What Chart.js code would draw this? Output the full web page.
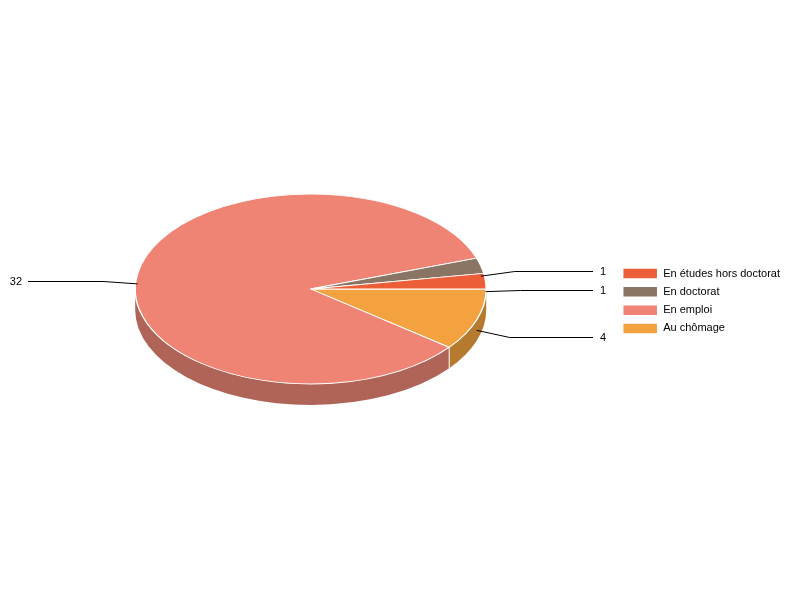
<!DOCTYPE html>
<html>
<head>
<meta charset="utf-8">
<style>
  html, body { margin: 0; padding: 0; background: #fff; }
  canvas { display: block; }
</style>
<script src="https://cdn.jsdelivr.net/npm/chart.js@4"></script>
</head>
<body>
<canvas id="chart" width="800" height="600"></canvas>
<script>
// drawn clockwise from 3 o'clock, the legend shows them in reverse
const categories = ['Au chômage', 'En emploi', 'En doctorat', 'En études hors doctorat'];
const counts = [4, 32, 1, 1];
const colors = ['#f4a13f', '#ef8374', '#8a7565', '#ec5e38'];
const wallColors = ['#b67a2e', '#b06357', '#685749', '#b1462a'];

const FONT = 'Arial, "Liberation Sans", sans-serif';
const SQUASH = 95 / 175.5;
const DEPTH = 21;
const CY = 289;

// the pie is laid out round, then flattened onto the table plane
function project(ctx, chart) {
  const cy = (chart.chartArea.top + chart.chartArea.bottom) / 2;
  ctx.translate(0, CY);
  ctx.scale(1, SQUASH);
  ctx.translate(0, -cy);
}

const pie3d = {
  id: 'pie3d',
  beforeDatasetsDraw(chart) {
    const { ctx } = chart;
    const arcs = chart.getDatasetMeta(0).data;
    const cx = arcs[0].x;
    const rx = arcs[0].outerRadius;
    const ry = rx * SQUASH;
    ctx.save();
    ctx.lineWidth = 1;
    ctx.strokeStyle = '#fff';
    arcs.forEach((arc, i) => {
      // only the front half of the rim can be seen
      const a0 = Math.max(arc.startAngle, 0);
      const a1 = Math.min(arc.endAngle, Math.PI);
      if (a1 <= a0) return;
      ctx.beginPath();
      ctx.ellipse(cx, CY, rx, ry, 0, a0, a1);
      ctx.lineTo(cx + rx * Math.cos(a1), CY + ry * Math.sin(a1) + DEPTH);
      ctx.ellipse(cx, CY + DEPTH, rx, ry, 0, a1, a0, true);
      ctx.closePath();
      ctx.fillStyle = wallColors[i];
      ctx.fill();
      if (a0 > 0) {
        const x = cx + rx * Math.cos(a0);
        const y = CY + ry * Math.sin(a0);
        ctx.beginPath();
        ctx.moveTo(x, y);
        ctx.lineTo(x, y + DEPTH);
        ctx.stroke();
      }
    });
    ctx.restore();
    ctx.save();
    project(ctx, chart);
  },
  afterDatasetsDraw(chart) {
    const { ctx } = chart;
    ctx.restore();
    const arcs = chart.getDatasetMeta(0).data;
    ctx.save();
    ctx.font = '11px ' + FONT;
    ctx.fillStyle = '#000';
    ctx.strokeStyle = '#000';
    ctx.lineWidth = 1;
    ctx.textBaseline = 'middle';
    arcs.forEach((arc, i) => {
      const mid = (arc.startAngle + arc.endAngle) / 2;
      const c = Math.cos(mid);
      const s = Math.sin(mid);
      const x0 = arc.x + arc.outerRadius * c;
      const y0 = CY + arc.outerRadius * SQUASH * s + DEPTH / 2;
      const right = c > 0;
      const x1 = x0 + 35 * c;
      const y1 = Math.round(y0 + 20 * s) + 0.5;
      const x2 = right ? 593 : 28;
      ctx.beginPath();
      ctx.moveTo(x0, y0);
      ctx.lineTo(x1, y1);
      ctx.lineTo(x2, y1);
      ctx.stroke();
      ctx.textAlign = right ? 'left' : 'right';
      ctx.fillText(String(counts[i]), right ? 600 : 22, y1);
    });
    ctx.restore();
  },
};

new Chart(document.getElementById('chart'), {
  type: 'pie',
  data: {
    labels: categories,
    datasets: [{
      data: counts,
      backgroundColor: colors,
      borderColor: '#fff',
      borderWidth: 1.5,
      hoverOffset: 0,
    }],
  },
  plugins: [pie3d],
  options: {
    responsive: false,
    animation: false,
    rotation: 90,
    radius: 175.5,
    layout: { padding: { left: 6, right: 10, top: 2 } },
    plugins: {
      tooltip: { enabled: false },
      legend: {
        position: 'right',
        reverse: true,
        labels: {
          boxWidth: 35,
          boxHeight: 11,
          padding: 7.3,
          color: '#000',
          font: { family: FONT, size: 11 },
        },
      },
    },
  },
});
</script>
</body>
</html>
